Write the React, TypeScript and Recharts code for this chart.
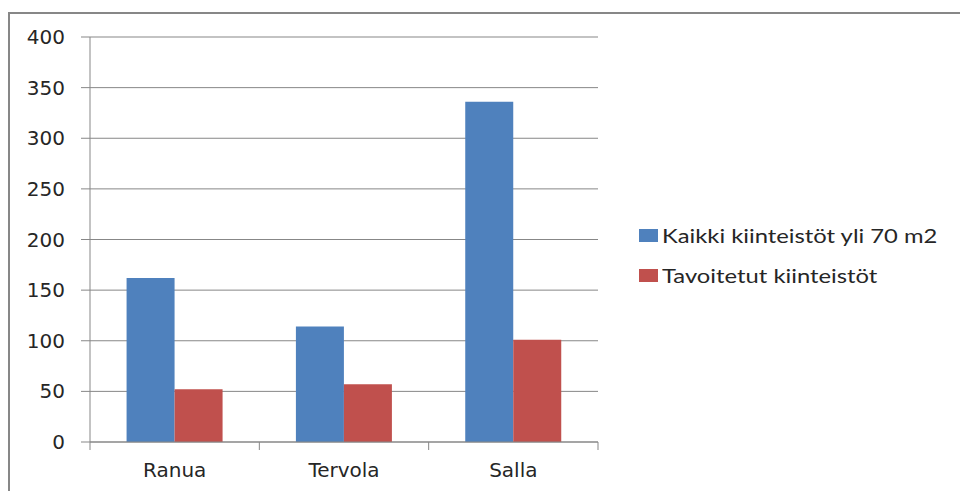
import React from 'react';
import { BarChart, Bar, XAxis, YAxis, CartesianGrid, Legend } from 'recharts';

const categories = ['Ranua', 'Tervola', 'Salla'];
const kaikkiValues = [162, 114, 336];
const tavoitetutValues = [52, 57, 101];
const yTicks = [0, 50, 100, 150, 200, 250, 300, 350, 400];
const seriesNames = ['Kaikki kiinteistöt yli 70 m2', 'Tavoitetut kiinteistöt'];
const seriesColors = ['#4F81BD', '#C0504D'];

const data = categories.map((name, i) => ({
  name,
  kaikki: kaikkiValues[i],
  tavoitetut: tavoitetutValues[i],
}));

const W = 960;
const H = 491;
const MARGIN = { top: 37, right: 362, bottom: 19, left: 0 };
const Y_AXIS_W = 90;
const PLOT_W = W - MARGIN.left - MARGIN.right - Y_AXIS_W;
const BAND = PLOT_W / categories.length;
const AXIS_COLOR = '#878787';
const TEXT_COLOR = '#262626';
const AXIS_FONT = '"DejaVu Sans", Verdana, sans-serif';

// category labels plus the tick marks between categories
const CategoryTick = (props: any) => {
  const { x, y, payload, index } = props;
  const last = index === categories.length - 1;
  return (
    <g>
      <line x1={x - BAND / 2} x2={x - BAND / 2} y1={y} y2={y + 8} stroke={AXIS_COLOR} />
      {last && <line x1={x + BAND / 2} x2={x + BAND / 2} y1={y} y2={y + 8} stroke={AXIS_COLOR} />}
      <text x={x} y={y + 35} textAnchor="middle" fontSize={20} fontFamily={AXIS_FONT} fill={TEXT_COLOR}>
        {payload.value}
      </text>
    </g>
  );
};

const LegendBox = () => (
  <div style={{ fontFamily: 'Lato, "Open Sans", sans-serif', fontSize: 19.5, color: TEXT_COLOR }}>
    {seriesNames.map((n, i) => (
      <div key={n} style={{ display: 'flex', alignItems: 'center', height: 40 }}>
        <span style={{ display: 'inline-block', width: 19, height: 13, background: seriesColors[i], marginRight: 4 }} />
        <span style={{ display: 'inline-block', transform: 'scaleX(1.22)', transformOrigin: 'left center', whiteSpace: 'nowrap' }}>
          {n}
        </span>
      </div>
    ))}
  </div>
);

export default function App() {
  return (
    <div style={{ position: 'absolute', left: 0, top: 0, width: W, height: H, overflow: 'hidden', background: '#fff' }}>
      <div
        style={{
          position: 'absolute',
          left: 8,
          top: 12,
          width: 1000,
          height: 600,
          border: `2px solid ${AXIS_COLOR}`,
          boxSizing: 'border-box',
        }}
      />
      <BarChart
        width={W}
        height={H}
        data={data}
        margin={MARGIN}
        barCategoryGap="21.6%"
        barGap={0}
        style={{ position: 'absolute', left: 0, top: 0 }}
      >
        <CartesianGrid vertical={false} stroke={AXIS_COLOR} />
        <XAxis
          dataKey="name"
          height={30}
          tickLine={false}
          tickSize={0}
          tickMargin={0}
          axisLine={{ stroke: AXIS_COLOR }}
          tick={<CategoryTick />}
          interval={0}
        />
        <YAxis
          width={Y_AXIS_W}
          domain={[0, 400]}
          ticks={yTicks}
          tickSize={9}
          tickMargin={16}
          tickLine={{ stroke: AXIS_COLOR }}
          axisLine={{ stroke: AXIS_COLOR }}
          tick={{ fontSize: 20, fontFamily: AXIS_FONT, fill: TEXT_COLOR }}
        />
        <Legend
          layout="horizontal"
          verticalAlign="middle"
          align="center"
          content={<LegendBox />}
          wrapperStyle={{ left: 639, top: 215, width: 320 }}
        />
        <Bar dataKey="kaikki" name={seriesNames[0]} fill={seriesColors[0]} isAnimationActive={false} />
        <Bar dataKey="tavoitetut" name={seriesNames[1]} fill={seriesColors[1]} isAnimationActive={false} />
      </BarChart>
    </div>
  );
}
